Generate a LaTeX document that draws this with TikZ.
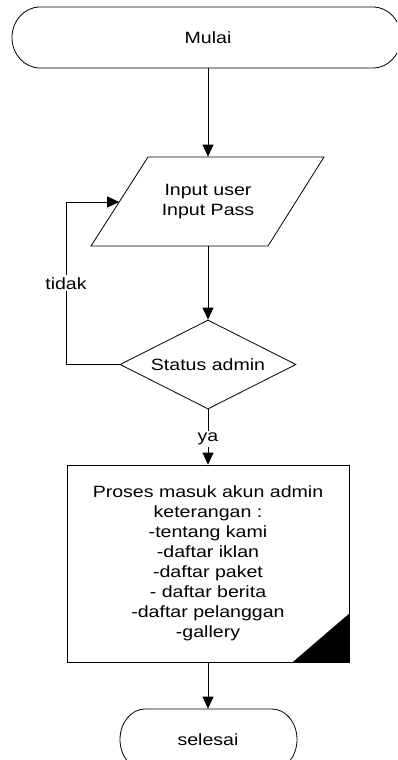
\documentclass[tikz,border=0pt]{standalone}
\usepackage{fontspec}
\setmainfont{Liberation Sans}[FakeStretch=1.2]
\usetikzlibrary{arrows.meta,shapes.geometric}
\begin{document}
\begin{tikzpicture}[x=1pt,y=-1pt,
  line width=0.8pt,
  txt/.style={font=\fontsize{16.3}{20}\selectfont, align=center, inner sep=0pt},
  arr/.style={-{Triangle[length=12pt,width=11pt]}},
  lbl/.style={font=\fontsize{16.3}{20}\selectfont, fill=white, inner sep=2pt}]
\useasboundingbox (0,0) rectangle (397,760);
\clip (0,0) rectangle (397,760);
% start terminal
\draw (40,7) -- (373,7) arc[start angle=90,end angle=-90,x radius=28pt,y radius=30.5pt]
  -- (40,68) arc[start angle=270,end angle=90,x radius=28pt,y radius=30.5pt] -- cycle;
\node[txt, minimum height=61pt, minimum width=300pt] (mulai) at (208,37.5) {Mulai};
% input parallelogram
\draw (148,157) -- (324,157) -- (268,246) -- (91,246) -- cycle;
\node[txt, minimum height=89pt, minimum width=120pt] (input) at (208,201.5) {Input user\\Input Pass};
\coordinate (inleft) at (119.2,202);
% decision
\node[txt, draw, diamond, aspect=2, minimum width=176pt, minimum height=89pt] (status) at (208,364.5) {Status admin};
% process
\node[txt, draw, minimum width=282pt, minimum height=197pt] (proses) at (208,563.5)
  {Proses masuk akun admin\\keterangan :\\-tentang kami\\-daftar iklan\\-daftar paket\\- daftar berita\\-daftar pelanggan\\-gallery};
\fill (proses.south east) -- ++(-57,0) -- ++(57,-49) -- cycle;
% end terminal
\draw (145,709) -- (272,709) arc[start angle=90,end angle=-90,x radius=25pt,y radius=30.5pt]
  -- (145,770) arc[start angle=270,end angle=90,x radius=25pt,y radius=30.5pt] -- cycle;
\node[txt, minimum height=61pt, minimum width=100pt] (selesai) at (208,739.5) {selesai};
% connectors
\coordinate (cornerL) at (66,364.5);
\coordinate (cornerTL) at (66,202);
\draw[arr] (mulai.south) -- (input.north);
\draw[arr] (input.south) -- (status.north);
\draw[arr] (status.west) -- (cornerL) -- node[lbl, pos=0.5] {tidak} (cornerTL) -- (inleft);
\draw[arr] (status.south) -- node[lbl, pos=0.54] {ya} (proses.north);
\draw[arr] (proses.south) -- (selesai.north);
\end{tikzpicture}
\end{document}
